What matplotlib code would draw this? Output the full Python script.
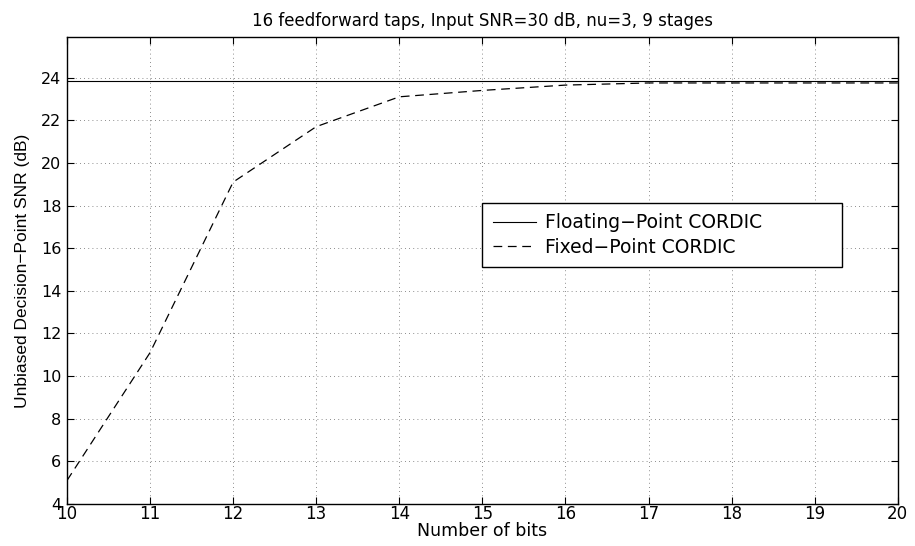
import numpy as np
import matplotlib
matplotlib.use("Agg")
import matplotlib.pyplot as plt

# data
bits = [10, 11, 12, 13, 14, 15, 16, 17, 18, 19, 20]
fixed_snr = [5.1, 11.1, 19.1, 21.7, 23.1, 23.4, 23.65, 23.75, 23.75, 23.75, 23.75]
float_snr = 23.86
yticks = [4, 6, 8, 10, 12, 14, 16, 18, 20, 22, 24]

plt.rcParams["font.family"] = ["DejaVu Sans"]

fig = plt.figure(figsize=(9.15, 5.46), dpi=100)
ax = fig.add_axes([0.0732, 0.077, 0.908, 0.855])

ax.plot([bits[0], bits[-1]], [float_snr, float_snr], "-", color="black", lw=0.8,
        label="Floating\u2212Point CORDIC")
ax.plot(bits, fixed_snr, "--", color="black", lw=0.9, dashes=(7, 4.5),
        label="Fixed\u2212Point CORDIC")

ax.set_xlim(10, 20)
ax.set_ylim(4, 25.9)
ax.set_xticks(bits)
ax.set_yticks(yticks)
ax.tick_params(direction="in", top=True, right=True, length=5)
ax.tick_params(axis="x", labelsize=12, pad=1)
ax.tick_params(axis="y", labelsize=11.5, pad=4)
ax.grid(True, ls=(0, (1, 4)), color="black", lw=0.6, alpha=0.6)
for s in ax.spines.values():
    s.set_linewidth(1.0)

ax.set_xlabel("Number of bits", fontsize=12.5, labelpad=-1)
ax.set_ylabel("Unbiased Decision\u2212Point SNR (dB)", fontsize=12.5, labelpad=8,
              family=["Liberation Sans"])
ax.set_title("16 feedforward taps, Input SNR=30 dB, nu=3, 9 stages", fontsize=12, pad=8)

leg = ax.legend(loc="upper left", bbox_to_anchor=(0.5, 0.505, 0.433, 0.14), mode="expand",
                fontsize=13.5, fancybox=False, edgecolor="black", framealpha=1,
                borderpad=0.55, handlelength=2.3, handletextpad=0.5,
                labelspacing=0.3, borderaxespad=0)
leg.get_frame().set_linewidth(1.0)

fig.savefig("out.png", dpi=100)
